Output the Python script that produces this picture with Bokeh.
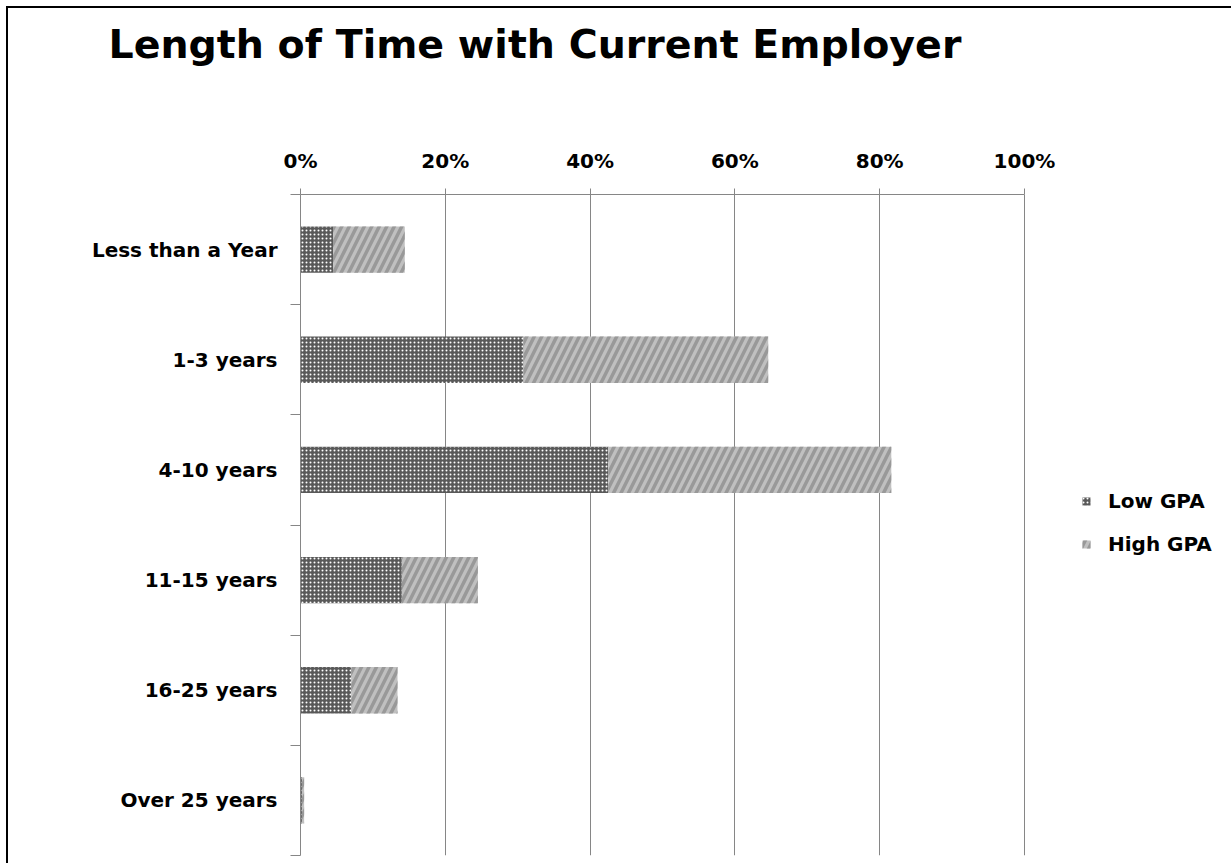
from bokeh.plotting import figure
from bokeh.models import (ColumnDataSource, FixedTicker, Range1d, Legend, LegendItem,
                          PrintfTickFormatter, Title)
from bokeh.embed import file_html
from bokeh.resources import INLINE

# ---- data -------------------------------------------------------------
categories = ["Less than a Year", "1-3 years", "4-10 years", "11-15 years",
              "16-25 years", "Over 25 years"]
low_gpa = [4.5, 30.8, 42.5, 14.0, 7.0, 0.2]
high_gpa = [9.9, 33.8, 39.1, 10.5, 6.4, 0.3]
x_ticks = [0, 20, 40, 60, 80, 100]
series_names = ["Low GPA", "High GPA"]
title_text = "Length of Time with Current Employer"

# ---- layout helpers ----------------------------------------------------
n = len(categories)
ypos = [n - 0.5 - i for i in range(n)]
bounds = list(range(n + 1))
src = ColumnDataSource(dict(y=ypos, low=low_gpa, high=high_gpa, cat=categories))

FONT = "DejaVu Sans"
GRID = "#868686"
W, H = 1231, 863
LEFT, TOP, BOTTOM = 300, 194, 8
AXIS_PX = 724  # pixel length of the 0-100 % axis
x_max = 100 * (W - LEFT) / AXIS_PX  # extra room on the right for the legend

p = figure(width=W, height=H, output_backend="svg", toolbar_location=None,
           x_range=Range1d(0, x_max), y_range=Range1d(0, n),
           x_axis_location="above",
           min_border_left=LEFT, min_border_right=0,
           min_border_top=TOP, min_border_bottom=BOTTOM)
p.outline_line_color = None
p.background_fill_color = "white"
p.border_fill_color = None
p.styles = {
    "background-color": "white",
    "background-image": "linear-gradient(black, black), linear-gradient(black, black)",
    "background-size": "100% 2px, 2px 100%",
    "background-position": "6px 6px, 6px 6px",
    "background-repeat": "no-repeat",
}

rs = p.hbar_stack(["low", "high"], y="y", height=0.42, source=src,
                  fill_color=["#595959", "#c0c0c0"], line_color=None,
                  hatch_pattern=["dot", "right_diagonal_line"],
                  hatch_color=["white", "#999999"],
                  hatch_scale=[4, 15], hatch_weight=[1.2, 3.5])

# x axis (top)
xa = p.xaxis[0]
xa.ticker = FixedTicker(ticks=x_ticks)
xa.bounds = (x_ticks[0], x_ticks[-1])
xa.formatter = PrintfTickFormatter(format="%d%%")
xa.axis_line_color = GRID
xa.major_tick_line_color = GRID
xa.major_tick_out = 6
xa.major_tick_in = 0
xa.minor_tick_line_color = None
xa.major_label_standoff = 16
xa.major_label_text_font = FONT
xa.major_label_text_font_style = "bold"
xa.major_label_text_font_size = "20px"
xa.major_label_text_color = "black"

# y axis (left) – labels at centres, ticks at boundaries
ya = p.yaxis[0]
ya.ticker = FixedTicker(ticks=ypos, minor_ticks=bounds)
ya.major_label_overrides = {y: c for y, c in zip(ypos, categories)}
ya.axis_line_color = GRID
ya.major_tick_line_color = None
ya.major_tick_out = 0
ya.major_tick_in = 0
ya.minor_tick_line_color = GRID
ya.minor_tick_out = 10
ya.minor_tick_in = 0
ya.major_label_standoff = 13
ya.major_label_text_font = FONT
ya.major_label_text_font_style = "bold"
ya.major_label_text_font_size = "20px"
ya.major_label_text_color = "black"

p.xgrid.ticker = FixedTicker(ticks=x_ticks)
p.xgrid.grid_line_color = GRID
p.ygrid.grid_line_color = None

# spacer between axis labels and the title, then the title itself
p.add_layout(Title(text=" ", text_font_size="1px", standoff=76), "above")
p.add_layout(Title(text=title_text, align="left", offset=-(LEFT - 108), standoff=0,
                   text_font=FONT, text_font_style="bold",
                   text_font_size="39.5px", text_color="black"), "above")

legend = Legend(items=[LegendItem(label=series_names[0], renderers=[rs[0]]),
                       LegendItem(label=series_names[1], renderers=[rs[1]])],
                location=(781, 299),
                label_text_font=FONT, label_text_font_style="bold",
                label_text_font_size="20px", label_text_color="black",
                glyph_width=10, glyph_height=10, label_height=20,
                label_standoff=17, spacing=19, padding=0, margin=0,
                border_line_color=None, background_fill_alpha=0)
p.add_layout(legend)

open("out.html", "w").write(file_html(p, INLINE))
